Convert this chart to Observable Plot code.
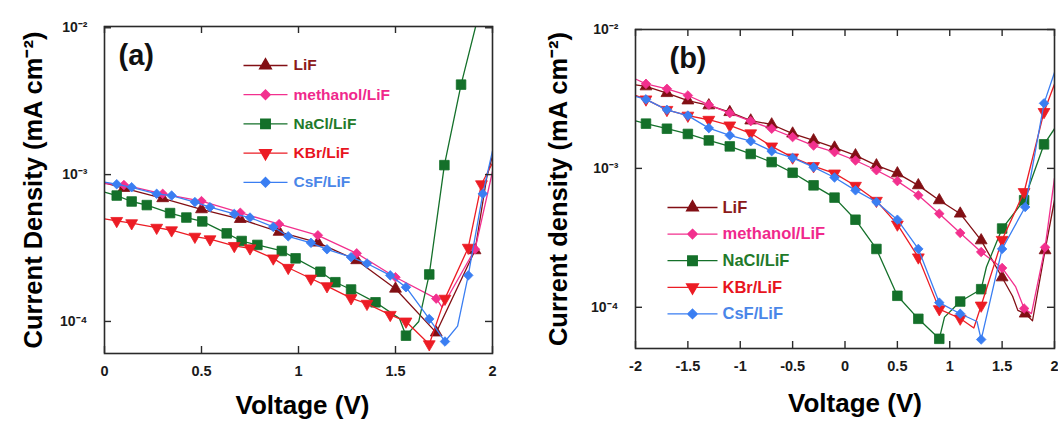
<!DOCTYPE html>
<html><head><meta charset="utf-8">
<script src="https://cdn.jsdelivr.net/npm/d3@7"></script>
<script src="https://cdn.jsdelivr.net/npm/@observablehq/plot@0.6"></script>
<style>
body{margin:0;background:#fff;}
#wrap{display:flex;width:1058px;height:423px;overflow:hidden;}
</style></head><body><div id="wrap"></div>
<script>
// ---------- shared ----------
const seriesNames = ["LiF", "methanol/LiF", "NaCl/LiF", "KBr/LiF", "CsF/LiF"];
const seriesColors = ["#820f14", "#f2308e", "#14702a", "#ec1c24", "#3a7ef2"];
const seriesText = ["#8b1a1a", "#f0288c", "#1f7a2a", "#e8141e", "#4a86e8"];
const yTicks = [1e-4, 1e-3, 1e-2];
const yTickLabels = ["10⁻⁴", "10⁻³", "10⁻²"];

// ---------- panel (a) : markers [V, J] and line-only points ----------
const a_LiF = [[0.1,8.1e-4],[0.3,6.9e-4],[0.5,5.8e-4],[0.7,4.98e-4],[0.9,4.07e-4],[1.1,3.44e-4],[1.3,2.61e-4],[1.5,1.67e-4],[1.71,8.4e-5],[1.91,3.05e-4]];
const a_LiF_line = [[0,8.8e-4],[1.97,9.5e-4],[2.0,1.35e-3]];
const a_MeOH = [[0.1,8.5e-4],[0.3,7.4e-4],[0.5,6.6e-4],[0.7,5.5e-4],[0.9,4.6e-4],[1.1,3.86e-4],[1.3,2.91e-4],[1.5,2.0e-4],[1.71,1.43e-4],[1.91,3.1e-4]];
const a_MeOH_line = [[0,8.7e-4],[1.74,1.25e-4],[2.0,1.05e-3]];
const a_NaCl = [[0.063,7.2e-4],[0.14,6.56e-4],[0.218,6.2e-4],[0.338,5.47e-4],[0.422,5.1e-4],[0.504,4.8e-4],[0.63,3.98e-4],[0.707,3.53e-4],[0.788,3.32e-4],[0.914,3.02e-4],[0.985,2.69e-4],[1.113,2.18e-4],[1.19,1.85e-4],[1.271,1.65e-4],[1.397,1.35e-4],[1.554,8.0e-5],[1.674,2.09e-4],[1.752,1.16e-3],[1.838,4.1e-3]];
const a_NaCl_line = [[0,7.6e-4],[1.52,1.05e-4],[1.62,1.0e-4],[1.93,1.25e-2]];
const a_KBr = [[0.063,4.84e-4],[0.14,4.67e-4],[0.269,4.35e-4],[0.346,4.18e-4],[0.466,3.78e-4],[0.544,3.63e-4],[0.669,3.27e-4],[0.75,3.15e-4],[0.87,2.69e-4],[0.947,2.32e-4],[1.064,1.96e-4],[1.147,1.74e-4],[1.271,1.44e-4],[1.353,1.32e-4],[1.473,1.11e-4],[1.554,1.0e-4],[1.674,7.0e-5],[1.755,1.43e-4],[1.875,3.18e-4],[1.943,8.6e-4]];
const a_KBr_line = [[0,5.0e-4],[2.0,1.2e-3]];
const a_CsF = [[0.063,8.6e-4],[0.14,8.2e-4],[0.269,7.4e-4],[0.346,7.2e-4],[0.466,6.5e-4],[0.544,6.0e-4],[0.669,5.4e-4],[0.75,5.1e-4],[0.87,4.4e-4],[0.947,3.8e-4],[1.064,3.43e-4],[1.147,3.1e-4],[1.271,2.74e-4],[1.353,2.48e-4],[1.473,2.06e-4],[1.554,1.71e-4],[1.674,1.04e-4],[1.755,7.3e-5],[1.875,2.06e-4],[1.95,7.4e-4]];
const a_CsF_line = [[0,8.9e-4],[1.82,9.3e-5],[2.0,1.45e-3]];
const a_xTicks = [0, 0.5, 1, 1.5, 2];
const a_xTickLabels = ["0", "0.5", "1", "1.5", "2"];

// ---------- panel (b) ----------
const b_LiF = [[-1.9,3.89e-3],[-1.7,3.48e-3],[-1.5,3.08e-3],[-1.3,2.84e-3],[-1.1,2.54e-3],[-0.9,2.21e-3],[-0.7,2.07e-3],[-0.5,1.78e-3],[-0.3,1.59e-3],[-0.1,1.41e-3],[0.1,1.24e-3],[0.3,1.05e-3],[0.5,9.2e-4],[0.7,7.55e-4],[0.9,5.89e-4],[1.1,4.72e-4],[1.3,3.03e-4],[1.5,1.64e-4],[1.72,9.0e-5],[1.91,2.57e-4]];
const b_LiF_line = [[-2,4.0e-3],[1.6,1.2e-4],[1.65,9.5e-5],[1.79,8.0e-5],[2.0,5.9e-4]];
const b_MeOH = [[-1.9,4.06e-3],[-1.7,3.74e-3],[-1.5,3.35e-3],[-1.3,2.87e-3],[-1.1,2.5e-3],[-0.9,2.19e-3],[-0.7,1.93e-3],[-0.5,1.68e-3],[-0.3,1.46e-3],[-0.1,1.31e-3],[0.1,1.14e-3],[0.3,9.7e-4],[0.5,8.1e-4],[0.7,6.4e-4],[0.9,4.72e-4],[1.1,3.43e-4],[1.3,2.5e-4],[1.5,1.92e-4],[1.71,9.8e-5],[1.91,2.7e-4]];
const b_MeOH_line = [[-2,4.4e-3],[1.63,1.4e-4],[1.78,9.0e-5],[2.0,8.5e-4]];
const b_NaCl = [[-1.9,2.1e-3],[-1.7,1.93e-3],[-1.5,1.77e-3],[-1.3,1.59e-3],[-1.1,1.44e-3],[-0.9,1.27e-3],[-0.7,1.11e-3],[-0.5,9.3e-4],[-0.3,7.55e-4],[-0.1,6.16e-4],[0.1,4.27e-4],[0.3,2.63e-4],[0.5,1.21e-4],[0.7,8.26e-5],[0.9,5.93e-5],[1.1,1.1e-4],[1.3,1.35e-4],[1.5,3.69e-4],[1.71,5.9e-4],[1.9,1.49e-3]];
const b_NaCl_line = [[-2,2.2e-3],[0.95,8.5e-5],[1.35,1.95e-4],[2.0,1.93e-3]];
const b_KBr = [[-1.9,3.14e-3],[-1.7,2.64e-3],[-1.5,2.4e-3],[-1.3,2.24e-3],[-1.1,2.04e-3],[-0.9,1.79e-3],[-0.7,1.44e-3],[-0.5,1.2e-3],[-0.3,1.04e-3],[-0.1,9.2e-4],[0.1,7.5e-4],[0.3,5.85e-4],[0.5,3.95e-4],[0.7,2.29e-4],[0.9,9.7e-5],[1.1,8.3e-5],[1.3,1.03e-4],[1.5,3.06e-4],[1.71,6.76e-4],[1.9,2.55e-3]];
const b_KBr_line = [[-2,3.35e-3],[1.23,7.1e-5],[2.0,4.05e-3]];
const b_CsF = [[-1.9,3.14e-3],[-1.7,2.64e-3],[-1.5,2.4e-3],[-1.3,1.95e-3],[-1.1,1.73e-3],[-0.9,1.57e-3],[-0.7,1.33e-3],[-0.5,1.19e-3],[-0.3,1.02e-3],[-0.1,8.6e-4],[0.1,6.95e-4],[0.3,5.73e-4],[0.5,4.27e-4],[0.7,2.63e-4],[0.9,1.08e-4],[1.1,8.98e-5],[1.3,5.86e-5],[1.5,2.63e-4],[1.72,5.27e-4],[1.9,2.94e-3]];
const b_CsF_line = [[-2,3.3e-3],[1.26,7.9e-5],[2.0,4.9e-3]];
const b_xTicks = [-2, -1.5, -1, -0.5, 0, 0.5, 1, 1.5, 2];
const b_xTickLabels = ["-2", "-1.5", "-1", "-0.5", "0", "0.5", "1", "1.5", "2"];

// ---------- symbols ----------
const triDown = {draw(ctx, size) {
  const y = -Math.sqrt(size / (Math.sqrt(3) * 3));
  ctx.moveTo(0, -y * 2); ctx.lineTo(-Math.sqrt(3) * y, y); ctx.lineTo(Math.sqrt(3) * y, y); ctx.closePath();
}};
const seriesSymbols = [d3.symbolTriangle, d3.symbolDiamond2, d3.symbolSquare, triDown, d3.symbolDiamond2];
const seriesR = [4.4, 4.3, 5.4, 4.4, 4.3];
function legendSymbol(sym, half) {
  return {draw(ctx, size) { ctx.moveTo(-half, 0); ctx.lineTo(half, 0); sym.draw(ctx, size); }};
}

function toRows(markers, extra) {
  const m = markers.map(([V, J]) => ({V, J}));
  const l = markers.concat(extra).map(([V, J]) => ({V, J})).sort((a, b) => a.V - b.V);
  return {m, l};
}

function panel(cfg) {
  const {width, height, ml, mr, mt, mb, xDomain, yDomain, xTicks, xTickLabels, series, letter, letterDx, letterDy,
         yLabel, yLabelDx, xLabelDx, xLabelDy, leg} = cfg;
  const innerW = width - ml - mr, innerH = height - mt - mb;
  const tick = 7;
  const marks = [];
  series.forEach(([mk, ex], i) => {
    const {m, l} = toRows(mk, ex);
    marks.push(Plot.line(l, {x: "V", y: "J", stroke: seriesColors[i], strokeWidth: 1.3, clip: true}));
    marks.push(Plot.dot(m, {x: "V", y: "J", symbol: seriesSymbols[i], r: seriesR[i], fill: seriesColors[i], stroke: seriesColors[i], strokeWidth: 0.8, clip: true}));
  });
  // legend
  seriesNames.forEach((name, i) => {
    marks.push(Plot.dot([name], {frameAnchor: "top-left", dx: leg.cx, dy: leg.y0 + i * leg.gap,
      symbol: legendSymbol(seriesSymbols[i], leg.half), r: seriesR[i], fill: seriesColors[i], stroke: seriesColors[i], strokeWidth: 1.3}));
    marks.push(Plot.text([name], {text: d => d, frameAnchor: "top-left", dx: leg.tx, dy: leg.y0 + i * leg.gap,
      textAnchor: "start", lineAnchor: "middle", fill: seriesText[i], fontSize: leg.fs, fontWeight: "bold"}));
  });
  // frame and inward ticks
  marks.push(Plot.frame({stroke: "#2a2a2a", strokeWidth: 1.6}));
  marks.push(Plot.tickX(xTicks, {x: d => d, stroke: "#2a2a2a", strokeWidth: 1.4, insetTop: innerH - tick}));
  marks.push(Plot.tickX(xTicks, {x: d => d, stroke: "#2a2a2a", strokeWidth: 1.4, insetBottom: innerH - tick}));
  marks.push(Plot.tickY(yTicks, {y: d => d, stroke: "#2a2a2a", strokeWidth: 1.4, insetRight: innerW - tick}));
  marks.push(Plot.tickY(yTicks, {y: d => d, stroke: "#2a2a2a", strokeWidth: 1.4, insetLeft: innerW - tick}));
  // tick labels
  marks.push(Plot.axisX({ticks: xTicks, tickFormat: d => xTickLabels[xTicks.indexOf(d)], tickSize: 0, tickPadding: 12,
    fontSize: 14.5, fontWeight: "bold", fill: "#1a1a1a", label: null}));
  marks.push(Plot.axisY({ticks: yTicks, tickFormat: d => yTickLabels[yTicks.indexOf(d)], tickSize: 0, tickPadding: 17,
    fontSize: 14, fontWeight: "bold", fill: "#1a1a1a", label: null}));
  // titles
  marks.push(Plot.text(["Voltage (V)"], {text: d => d, frameAnchor: "bottom", dx: xLabelDx, dy: xLabelDy, lineAnchor: "middle",
    textAnchor: "middle", fontSize: 26, fontWeight: "bold", fill: "#000"}));
  marks.push(Plot.text([yLabel], {text: d => d, frameAnchor: "left", rotate: -90, dx: yLabelDx, lineAnchor: "middle",
    textAnchor: "middle", fontSize: 25.5, fontWeight: "bold", fill: "#000"}));
  marks.push(Plot.text([letter], {text: d => d, frameAnchor: "top-left", dx: letterDx, dy: letterDy, textAnchor: "start",
    lineAnchor: "middle", fontSize: 29, fontWeight: "bold", fill: "#111"}));
  return Plot.plot({
    width, height, marginLeft: ml, marginRight: mr, marginTop: mt, marginBottom: mb,
    style: {fontFamily: "'Liberation Sans', Arial, sans-serif", background: "#fff", overflow: "visible"},
    x: {domain: xDomain, axis: null},
    y: {type: "log", domain: yDomain, axis: null},
    marks
  });
}

const wrap = document.getElementById("wrap");
wrap.appendChild(panel({
  width: 530, height: 423, ml: 104, mr: 38, mt: 26, mb: 70,
  xDomain: [0, 2], yDomain: [6.05e-5, 1.02e-2], xTicks: a_xTicks, xTickLabels: a_xTickLabels,
  series: [[a_LiF, a_LiF_line], [a_MeOH, a_MeOH_line], [a_NaCl, a_NaCl_line], [a_KBr, a_KBr_line], [a_CsF, a_CsF_line]],
  letter: "(a)", letterDx: 14, letterDy: 29,
  yLabel: "Current Density (mA cm⁻²)", yLabelDx: -71, xLabelDx: 4, xLabelDy: 52,
  leg: {cx: 161, half: 22, tx: 189, y0: 39, gap: 29.2, fs: 15.5}
}));
wrap.appendChild(panel({
  width: 528, height: 423, ml: 105, mr: 4, mt: 29, mb: 75,
  xDomain: [-2, 2], yDomain: [5.05e-5, 1e-2], xTicks: b_xTicks, xTickLabels: b_xTickLabels,
  series: [[b_LiF, b_LiF_line], [b_MeOH, b_MeOH_line], [b_NaCl, b_NaCl_line], [b_KBr, b_KBr_line], [b_CsF, b_CsF_line]],
  letter: "(b)", letterDx: 34, letterDy: 29,
  yLabel: "Current density (mA cm⁻²)", yLabelDx: -77, xLabelDx: 10, xLabelDy: 55,
  leg: {cx: 57, half: 25, tx: 87, y0: 178, gap: 26.6, fs: 16.5}
}));
</script></body></html>
